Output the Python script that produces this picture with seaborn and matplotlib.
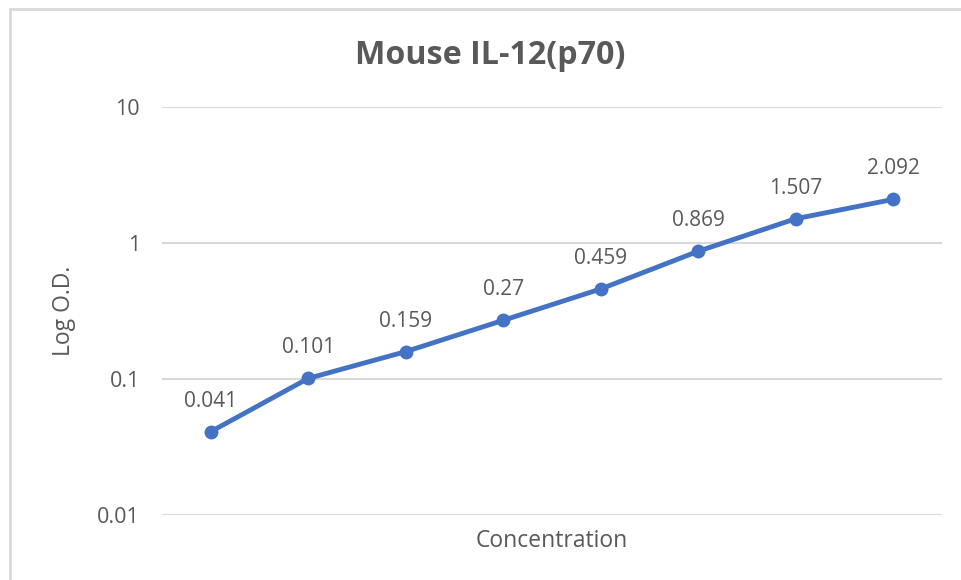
import matplotlib
matplotlib.use("Agg")
import matplotlib.pyplot as plt
import matplotlib.patches as mpatches
import seaborn as sns
import pandas as pd

# data
points = [1, 2, 3, 4, 5, 6, 7, 8]
od_values = [0.041, 0.101, 0.159, 0.27, 0.459, 0.869, 1.507, 2.092]
od_labels = ["0.041", "0.101", "0.159", "0.27", "0.459", "0.869", "1.507", "2.092"]
y_ticks = [0.01, 0.1, 1, 10]
y_tick_labels = ["0.01", "0.1", "1", "10"]

df = pd.DataFrame({"pos": range(len(points)), "od": od_values})

sns.set_theme(style="white")
plt.rcParams["font.family"] = ["Open Sans", "DejaVu Sans"]

fig = plt.figure(figsize=(9.61, 5.8), dpi=100)
ax = fig.add_axes([0.1686, 0.1121, 0.8114, 0.7034])

blue = "#4472C4"
gray_txt = "#595959"

sns.lineplot(data=df, x="pos", y="od", ax=ax, color=blue, linewidth=3.5,
             marker="o", markersize=10, markeredgewidth=0, legend=False)

ax.set_yscale("log")
ax.set_ylim(0.01, 10)
ax.set_xlim(-0.5, len(points) - 0.5)
ax.set_yticks(y_ticks)
ax.set_yticklabels(y_tick_labels)
ax.set_xticks([])
ax.minorticks_off()
ax.tick_params(axis="y", length=0, pad=16, labelsize=15.5, labelcolor=gray_txt)

for y in y_ticks:
    ax.axhline(y, color="#d9d9d9", linewidth=1.5, zorder=0)

for s in ax.spines.values():
    s.set_visible(False)

for i, (v, lab) in enumerate(zip(od_values, od_labels)):
    ax.annotate(lab, (i, v), xytext=(0, 18), textcoords="offset points",
                ha="center", va="baseline", fontsize=15, color=gray_txt)

ax.set_xlabel("Concentration", fontsize=16.5, color=gray_txt, va="baseline")
ax.xaxis.set_label_coords(0.5, -0.078)
ax.set_ylabel("Log O.D.", fontsize=16.5, color=gray_txt, va="center")
ax.yaxis.set_label_coords(-0.126, 0.5)

fig.text(0.51, 0.8897, "Mouse IL-12(p70)", ha="center", va="baseline",
         fontsize=23.2, fontweight="bold", color=gray_txt)

# chart border (cropped at right and bottom)
border = mpatches.Rectangle((10 / 961, -0.2), 1.5, 1.2 - 9 / 580,
                            transform=fig.transFigure, fill=False,
                            edgecolor="#d9d9d9", linewidth=2)
fig.patches.append(border)

fig.savefig("out.png", dpi=100)
